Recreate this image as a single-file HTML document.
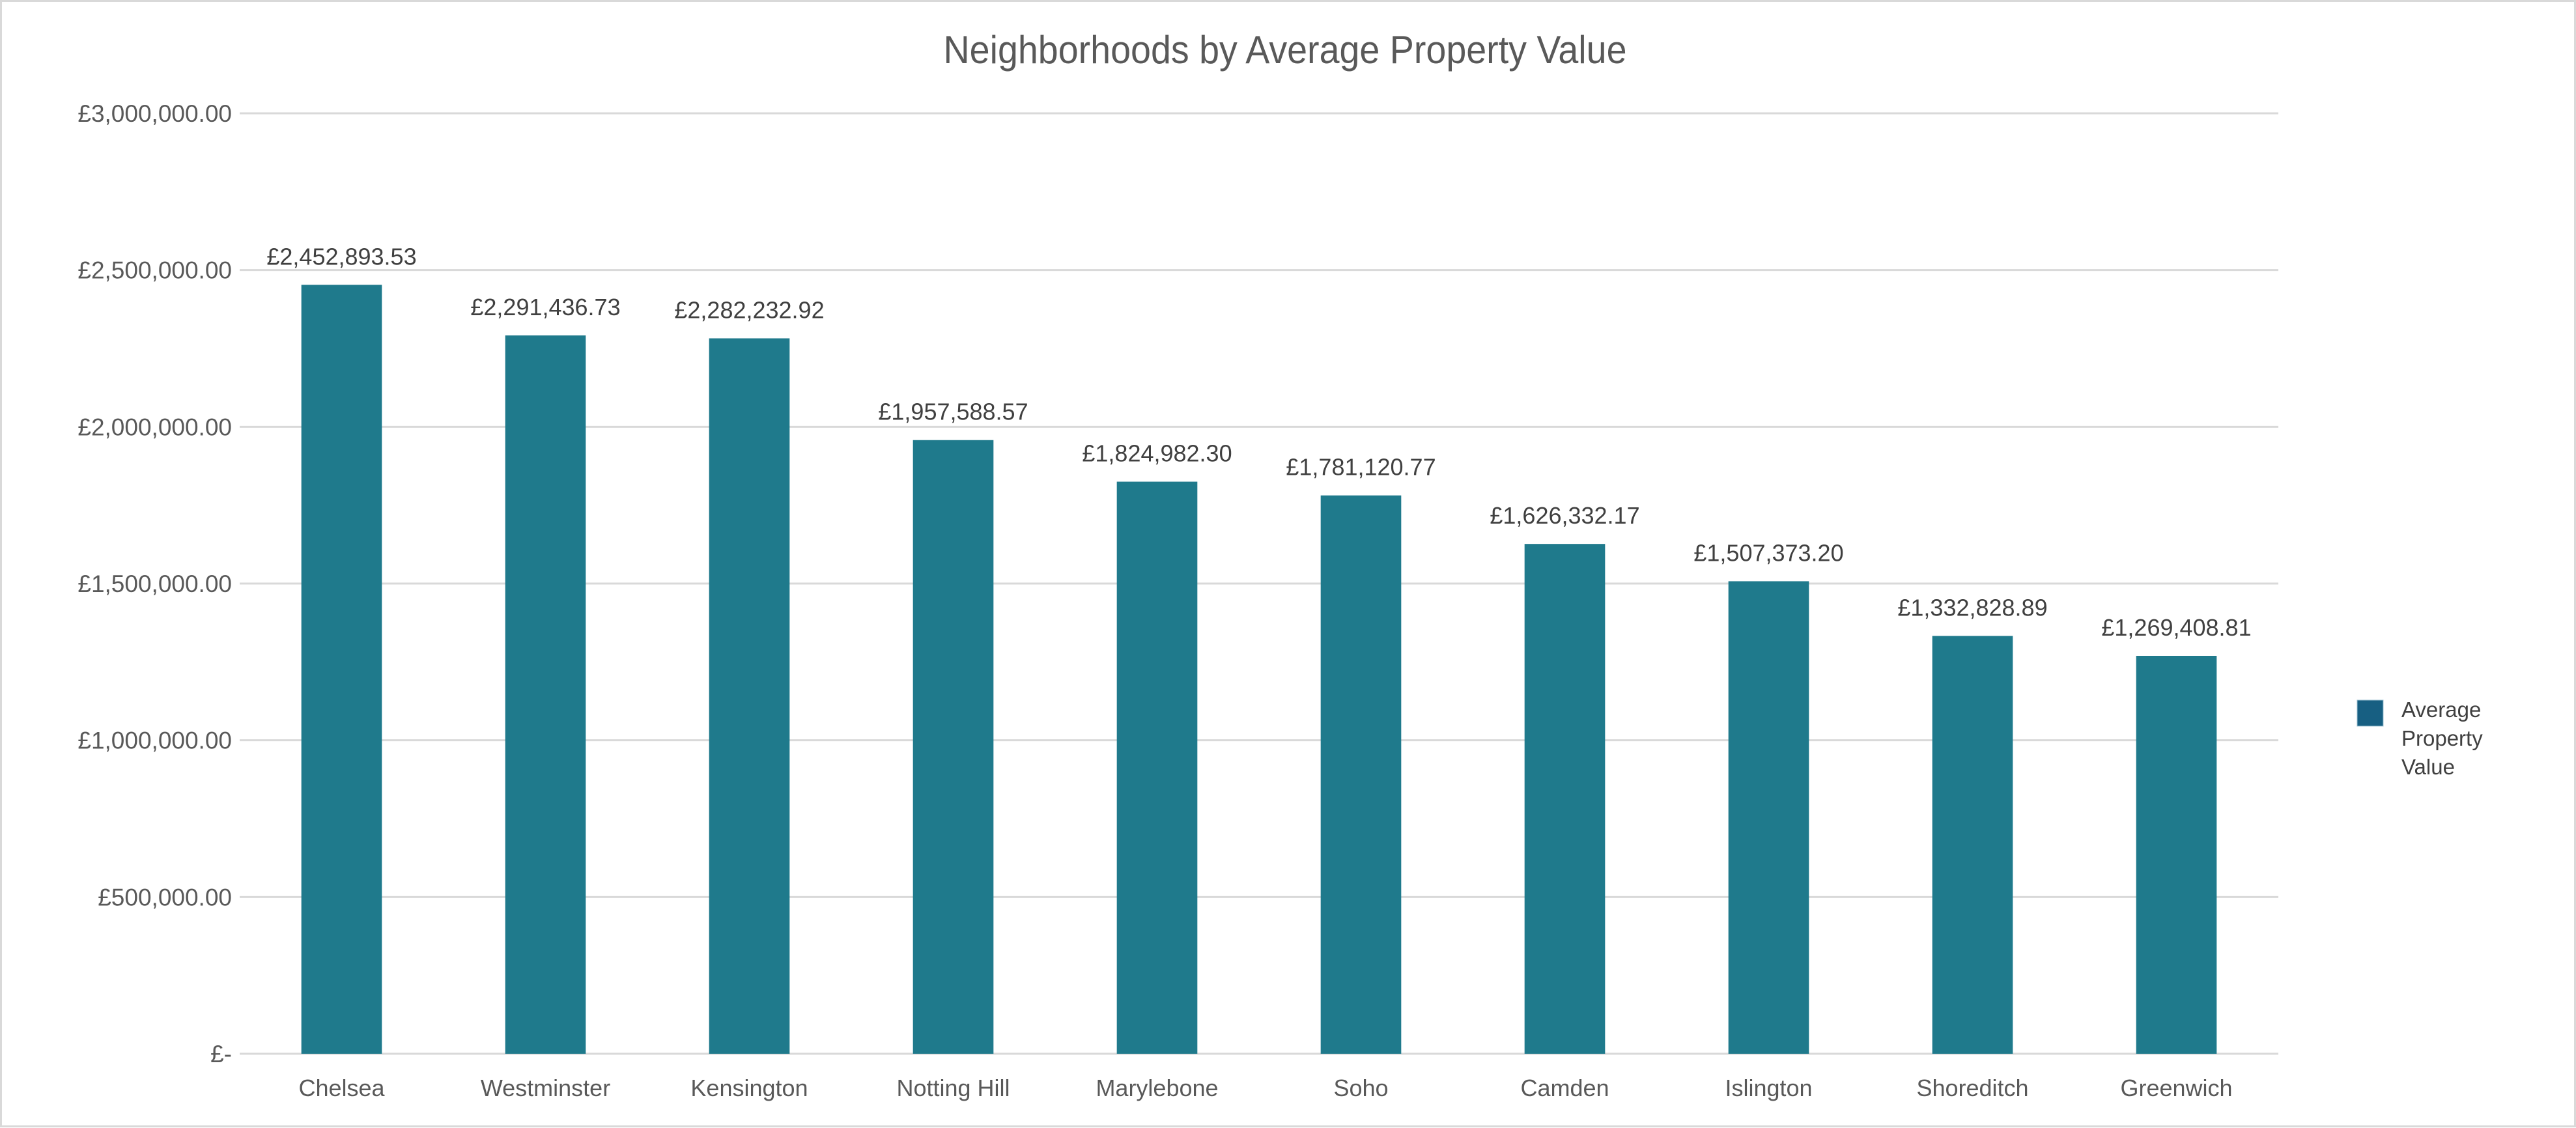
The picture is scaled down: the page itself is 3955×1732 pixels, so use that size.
<!DOCTYPE html>
<html><head><meta charset="utf-8"><style>
html,body{margin:0;padding:0;background:#fff;}
svg{display:block;font-family:"Liberation Sans",sans-serif;}
</style></head><body>
<svg id="chart" width="3955" height="1732" viewBox="0 0 3955 1732" xmlns="http://www.w3.org/2000/svg">
<rect x="1.5" y="1.5" width="3952" height="1728" fill="#fff" stroke="#d9d9d9" stroke-width="3"/>
<text x="1973" y="97" text-anchor="middle" font-size="60" fill="#595959" textLength="1049" lengthAdjust="spacingAndGlyphs">Neighborhoods by Average Property Value</text>
<g id="grid"></g>
<g id="yticks"></g>
<g id="bars"></g>
<g id="vlabels"></g>
<g id="xlabels"></g>
<g>
<rect x="3619" y="1075" width="40" height="40" fill="#175f82" stroke="#9fc3d3" stroke-width="1"/>
<text font-size="33" fill="#404040">
<tspan x="3687" y="1101">Average</tspan><tspan x="3687" y="1145">Property</tspan><tspan x="3687" y="1189">Value</tspan></text>
</g>
</svg>
<script>
const categories = ["Chelsea","Westminster","Kensington","Notting Hill","Marylebone","Soho","Camden","Islington","Shoreditch","Greenwich"];
const values = [2452893.53,2291436.73,2282232.92,1957588.57,1824982.30,1781120.77,1626332.17,1507373.20,1332828.89,1269408.81];
const valueLabels = ["£2,452,893.53","£2,291,436.73","£2,282,232.92","£1,957,588.57","£1,824,982.30","£1,781,120.77","£1,626,332.17","£1,507,373.20","£1,332,828.89","£1,269,408.81"];
const tickValues = [0,500000,1000000,1500000,2000000,2500000,3000000];
const tickLabels = ["£-","£500,000.00","£1,000,000.00","£1,500,000.00","£2,000,000.00","£2,500,000.00","£3,000,000.00"];

const NS="http://www.w3.org/2000/svg";
const L=368,R=3498,T=174,B=1618,YMAX=3000000;
const y=v=>B-(v/YMAX)*(B-T);
const band=(R-L)/categories.length;
const xc=i=>L+band*(i+0.5);
const bw=band*0.395;
function mk(tag,attrs,parent,text){const e=document.createElementNS(NS,tag);for(const k in attrs)e.setAttribute(k,attrs[k]);if(text!==undefined)e.textContent=text;document.getElementById(parent).appendChild(e);return e;}

tickValues.forEach((t,i)=>{
  const g=mk('line',{x1:L,x2:R,y1:y(t),y2:y(t),stroke:'#d9d9d9','stroke-width':3},'grid');
  
  
  const tl=mk('text',{x:356,y:y(t)+13,'text-anchor':'end','font-size':37,fill:'#595959'},'yticks',tickLabels[i]);
  
  
});
categories.forEach((c,i)=>{
  const b=mk('rect',{x:xc(i)-bw/2,y:y(values[i]),width:bw,height:B-y(values[i]),fill:'#1f7a8c'},'bars');
  
  
  const v=mk('text',{x:xc(i),y:y(values[i])-31,'text-anchor':'middle','font-size':36,fill:'#404040'},'vlabels',valueLabels[i]);
  
  
  const xl=mk('text',{x:xc(i),y:1683,'text-anchor':'middle','font-size':36,fill:'#595959'},'xlabels',c);
  
  
});
</script>
</body></html>
